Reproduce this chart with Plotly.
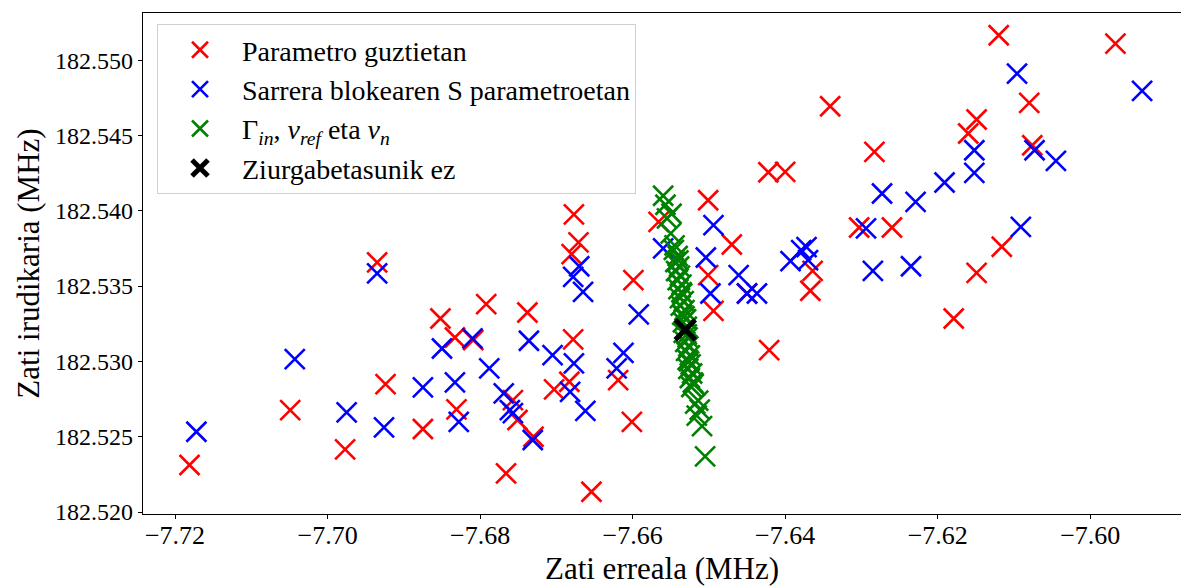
import plotly.graph_objects as go

# Complex frequency estimates (real part, imaginary part) in MHz
red_re = [-7.7181, -7.7049, -7.6977, -7.6935, -7.6924, -7.6875, -7.6852, -7.6833, -7.6809, -7.6831,
          -7.6792, -7.6766, -7.6738, -7.6757, -7.6751, -7.6730, -7.6677, -7.6671, -7.6680, -7.6678,
          -7.6703, -7.6683, -7.6654, -7.6599, -7.6619, -7.6601, -7.6566, -7.6501, -7.6470, -7.6501,
          -7.6494, -7.6450, -7.6421, -7.6400, -7.6422, -7.6341, -7.6283, -7.6303, -7.6260, -7.6364,
          -7.6367, -7.6179, -7.6149, -7.6116, -7.6120, -7.5967, -7.6080, -7.6149, -7.6160, -7.6076]
red_im = [182.52312, 182.52677, 182.52416, 182.53657, 182.52849, 182.52551, 182.53285, 182.53159, 182.53141, 182.52682,
          182.53380, 182.52257, 182.53325, 182.52743, 182.52611, 182.52500, 182.53976, 182.53790, 182.53712, 182.53146,
          182.52814, 182.52865, 182.52135, 182.53540, 182.52876, 182.52599, 182.53926, 182.54070, 182.53776, 182.53573,
          182.53336, 182.53451, 182.53075, 182.54258, 182.54256, 182.54694, 182.54391, 182.53889, 182.53889, 182.53601,
          182.53469, 182.53285, 182.53588, 182.53761, 182.55165, 182.55110, 182.54716, 182.54606, 182.54513, 182.54435]

blue_re = [-7.7172, -7.7043, -7.6975, -7.6935, -7.6926, -7.6875, -7.6850, -7.6810, -7.6833, -7.6828,
           -7.6788, -7.6769, -7.6761, -7.6757, -7.6731, -7.6736, -7.6705, -7.6677, -7.6682, -7.6662,
           -7.6670, -7.6678, -7.6665, -7.6592, -7.6612, -7.6621, -7.6560, -7.6494, -7.6504, -7.6461,
           -7.6498, -7.6450, -7.6437, -7.6393, -7.6379, -7.6372, -7.6370, -7.6096, -7.5932, -7.6152,
           -7.6152, -7.6073, -7.6045, -7.6191, -7.6229, -7.6273, -7.6294, -7.6091, -7.6285, -7.6235]
blue_im = [182.52533, 182.53015, 182.52662, 182.53584, 182.52562, 182.52828, 182.53086, 182.53153, 182.52861, 182.52599,
           182.52954, 182.52788, 182.52677, 182.52657, 182.52478, 182.53137, 182.53042, 182.52987, 182.52798, 182.52672,
           182.53632, 182.53561, 182.53462, 182.53312, 182.53057, 182.52954, 182.53750, 182.53905, 182.53690, 182.53573,
           182.53451, 182.53451, 182.53451, 182.53666, 182.53739, 182.53759, 182.53672, 182.54911, 182.54796, 182.54402,
           182.54252, 182.54402, 182.54331, 182.54188, 182.54059, 182.54115, 182.53883, 182.53893, 182.53601, 182.53632]

green_re = [-7.6560, -7.6557, -7.6549, -7.6555, -7.6550, -7.6545, -7.6546, -7.6541, -7.6540, -7.6544,
            -7.6539, -7.6543, -7.6538, -7.6541, -7.6536, -7.6540, -7.6535, -7.6536, -7.6538, -7.6533,
            -7.6537, -7.6532, -7.6535, -7.6532, -7.6530, -7.6534, -7.6529, -7.6533, -7.6528, -7.6529,
            -7.6531, -7.6527, -7.6530, -7.6525, -7.6528, -7.6526, -7.6524, -7.6527, -7.6522, -7.6525,
            -7.6520, -7.6521, -7.6523, -7.6514, -7.6518, -7.6512, -7.6516, -7.6509, -7.6505]
green_im = [182.5410, 182.5404, 182.5398, 182.5395, 182.5385, 182.5377, 182.5374, 182.5370, 182.5367, 182.5366,
            182.5363, 182.5360, 182.5357, 182.5354, 182.5351, 182.5348, 182.5345, 182.5346, 182.5342, 182.5340,
            182.5337, 182.5334, 182.5331, 182.5330, 182.5328, 182.5326, 182.5323, 182.5319, 182.5316, 182.5318,
            182.5313, 182.5310, 182.5307, 182.5304, 182.5301, 182.5300, 182.5298, 182.5295, 182.5292, 182.5289,
            182.5285, 182.5286, 182.5283, 182.5274, 182.5272, 182.5268, 182.5264, 182.5257, 182.5237]

nominal_re = [-7.6531]
nominal_im = [182.5321]

series_names = [
    "Parametro guztietan",
    "Sarrera blokearen S parametroetan",
    "Γ<sub><i>in</i></sub>, <i>v</i><sub><i>ref</i></sub> eta <i>v</i><sub><i>n</i></sub>",
    "Ziurgabetasunik ez",
]

FONT = "Liberation Serif"

fig = go.Figure()


def add_cross(xs, ys, name, color, width, group):
    fig.add_trace(go.Scatter(
        x=xs, y=ys, mode="markers", name=name, legendgroup=group,
        marker=dict(symbol="x-thin", size=20, color=color,
                    line=dict(color=color, width=width)),
    ))


add_cross(red_re, red_im, series_names[0], "#ff0000", 2.6, "a")
add_cross(blue_re, blue_im, series_names[1], "#0000ff", 2.6, "b")
add_cross(green_re, green_im, series_names[2], "#008000", 2.6, "c")
add_cross(nominal_re, nominal_im, series_names[3], "#000000", 5, "d")

fig.update_layout(
    width=1181, height=586,
    margin=dict(l=143, r=0, t=13, b=72),
    plot_bgcolor="white", paper_bgcolor="white",
    font=dict(family=FONT, size=22, color="black"),
    showlegend=True,
    legend=dict(
        x=0.0135, y=0.978, xanchor="left", yanchor="top",
        bgcolor="rgba(255,255,255,0.85)", bordercolor="#d0d0d0", borderwidth=1,
        font=dict(family=FONT, size=28),
        itemwidth=74, traceorder="grouped", tracegroupgap=0,
    ),
    xaxis=dict(
        range=[-7.7242, -7.5881], tickvals=[-7.72, -7.70, -7.68, -7.66, -7.64, -7.62, -7.60],
        tickformat=".2f", showgrid=False, zeroline=False,
        showline=True, linecolor="black", linewidth=1.2, mirror=True,
        ticks="outside", ticklen=4, tickcolor="black", ticklabelstandoff=-6,
        tickfont=dict(family=FONT, size=26),
        title=dict(text="Zati erreala (MHz)", font=dict(family=FONT, size=31), standoff=8),
    ),
    yaxis=dict(
        range=[182.51987, 182.55313], dtick=0.005, tick0=182.52,
        tickformat=".3f", showgrid=False, zeroline=False,
        showline=True, linecolor="black", linewidth=1.2, mirror=False,
        ticks="outside", ticklen=4, tickcolor="black",
        tickfont=dict(family=FONT, size=24),
        title=dict(text="Zati irudikaria (MHz)", font=dict(family=FONT, size=31), standoff=6),
    ),
)

fig.write_html("out.html")
